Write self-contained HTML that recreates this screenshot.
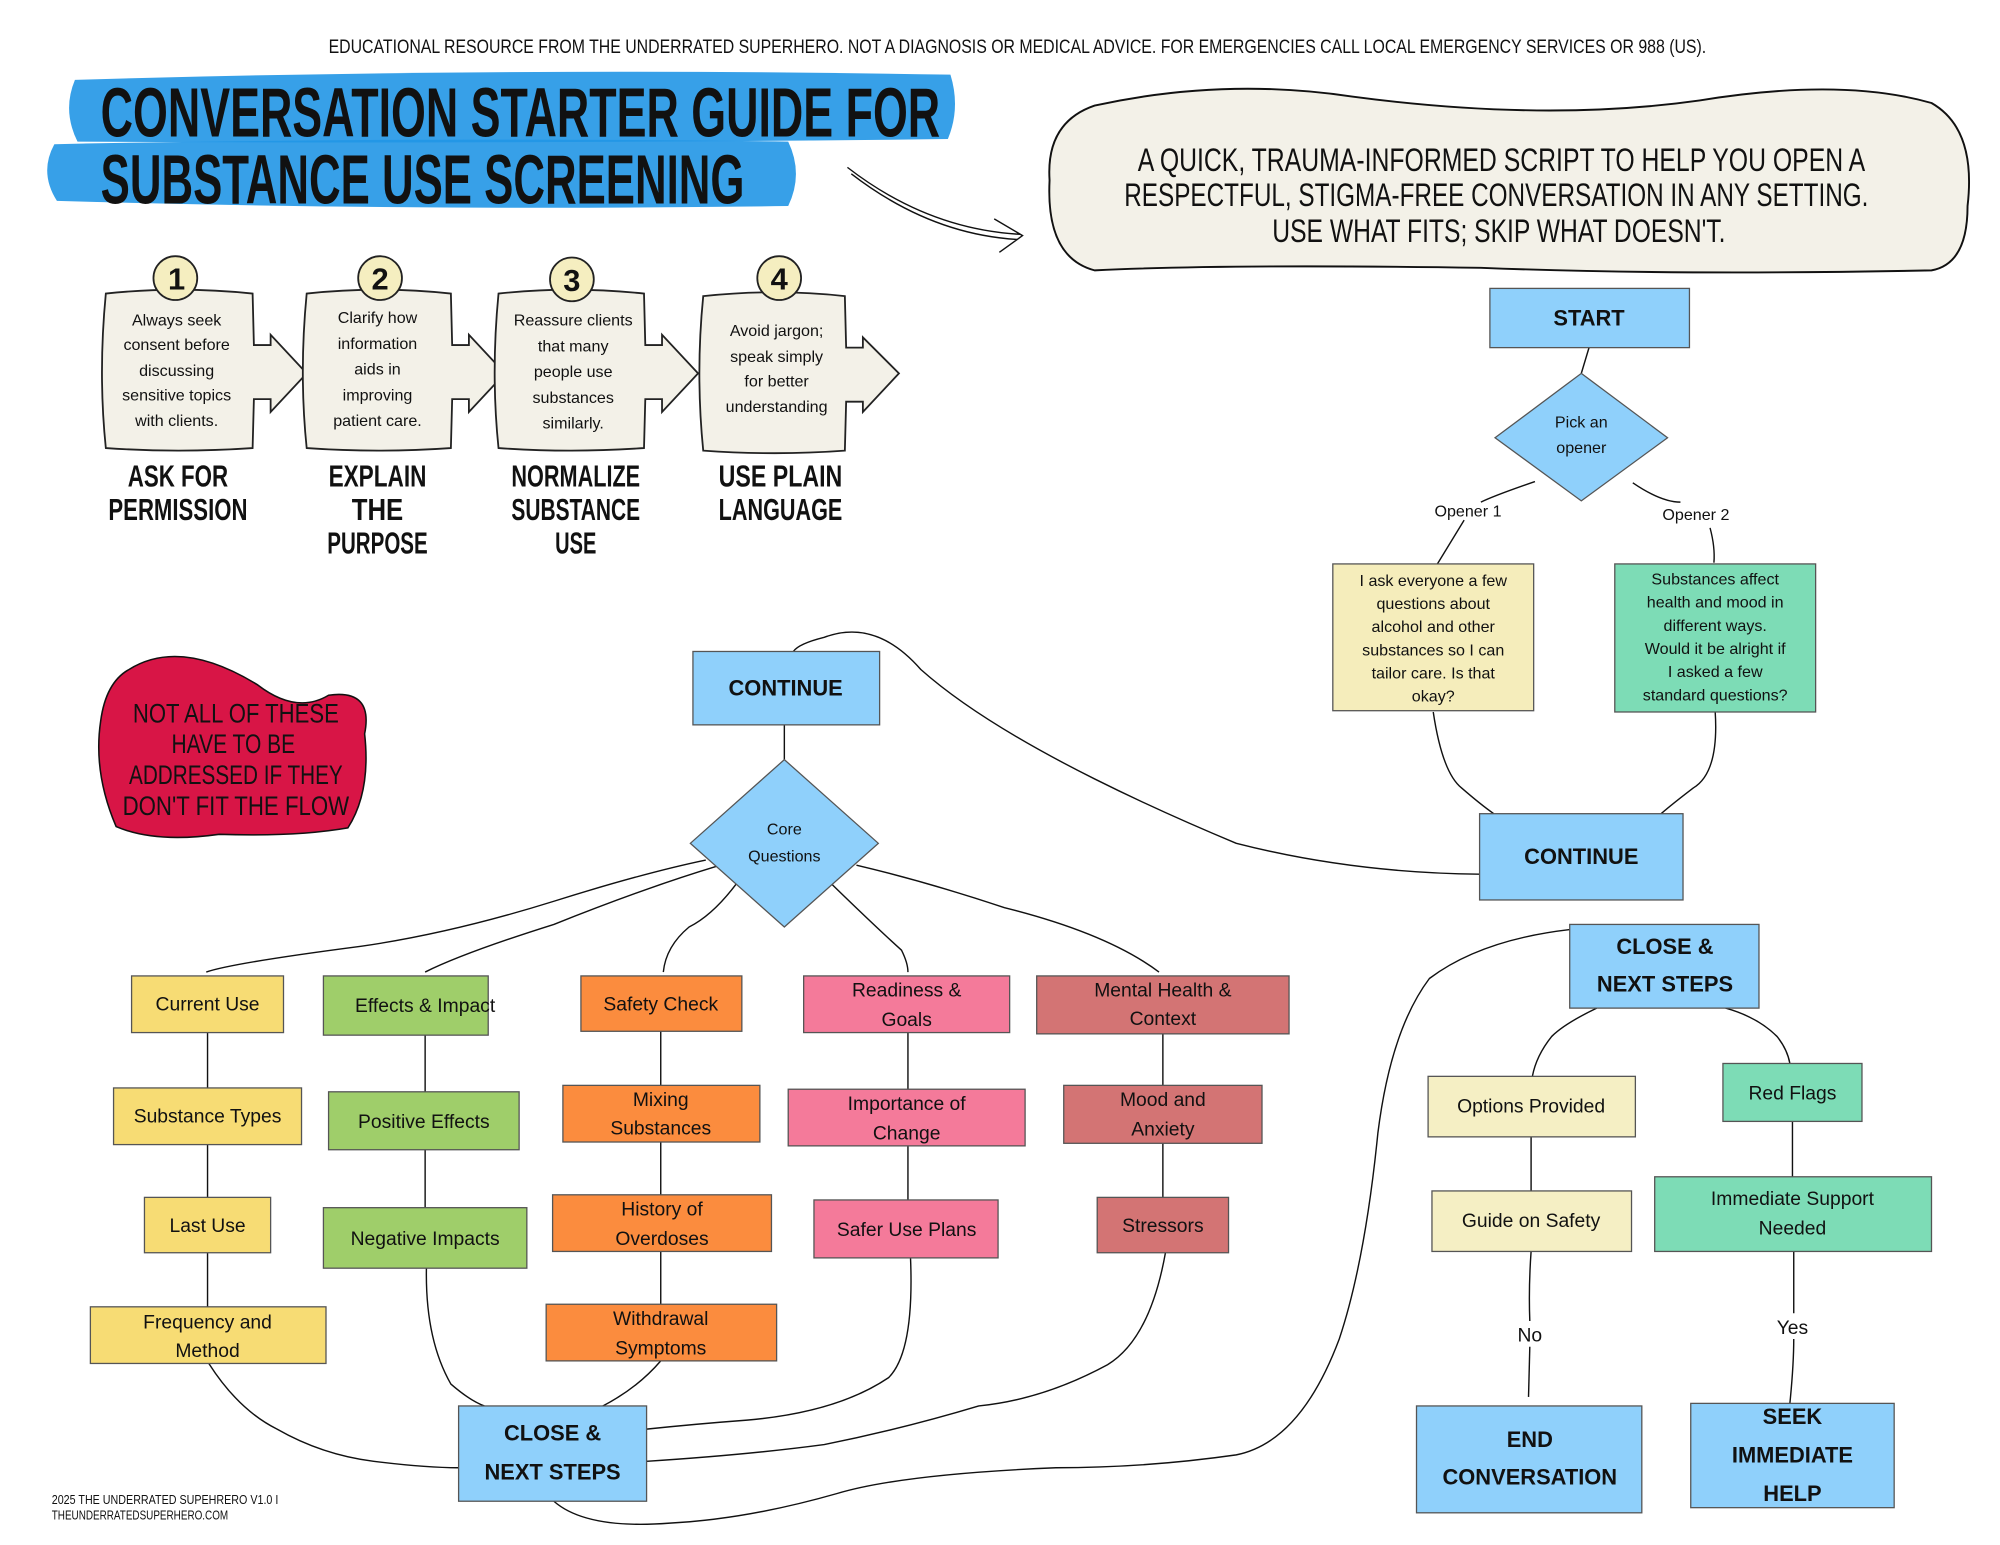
<!DOCTYPE html>
<html><head><meta charset="utf-8"><style>
html,body{margin:0;padding:0;background:#fff}
svg{display:block}
text{font-family:"Liberation Sans",sans-serif;fill:#111}
.b{stroke:#555;stroke-width:1}
.c{fill:none;stroke:#111;stroke-width:1.1}
.t{font-size:15px;text-anchor:middle}
.h{font-size:17px;font-weight:bold;text-anchor:middle}
.n{font-size:12.5px;text-anchor:middle}
.k{font-weight:bold;text-anchor:middle;font-size:22px}
</style></head><body>
<svg width="2000" height="1545" viewBox="0 0 1553 1200" xmlns="http://www.w3.org/2000/svg">
<rect width="1553" height="1200" fill="#fff"/>
<text x="790" y="41" text-anchor="middle" font-size="15" textLength="1070" lengthAdjust="spacingAndGlyphs">EDUCATIONAL RESOURCE FROM THE UNDERRATED SUPERHERO. NOT A DIAGNOSIS OR MEDICAL ADVICE. FOR EMERGENCIES CALL LOCAL EMERGENCY SERVICES OR 988 (US).</text>
<!-- title highlight -->
<path d="M58 62 Q400 52 738 58 Q746 84 736 108 Q400 112 60 110 Q48 86 58 62Z" fill="#2196e6" opacity="0.9"/>
<path d="M42 112 Q330 106 612 110 Q624 135 612 160 Q320 164 44 156 Q30 134 42 112Z" fill="#2196e6" opacity="0.9"/>
<text x="78" y="106" font-size="54" font-weight="bold" textLength="652" lengthAdjust="spacingAndGlyphs">CONVERSATION STARTER GUIDE FOR</text>
<text x="78" y="158" font-size="54" font-weight="bold" textLength="500" lengthAdjust="spacingAndGlyphs">SUBSTANCE USE SCREENING</text>
<!-- sketch arrow -->
<path class="c" d="M658 130 Q720 178 792 182 M661 135 Q722 182 790 186 M772 170 L794 183 L776 196" stroke-width="1.5"/>
<!-- bubble -->
<path d="M815 140 Q812 95 850 82 Q950 60 1050 75 Q1200 95 1320 78 Q1430 60 1500 80 Q1535 100 1528 160 Q1528 205 1500 210 Q1300 214 1150 208 Q950 205 850 210 Q812 200 815 140Z" fill="#f3f1e8" stroke="#111" stroke-width="1.5"/>
<text x="1166" y="133" text-anchor="middle" font-size="25" textLength="565" lengthAdjust="spacingAndGlyphs">A QUICK, TRAUMA-INFORMED SCRIPT TO HELP YOU OPEN A</text>
<text x="1162" y="160" text-anchor="middle" font-size="25" textLength="578" lengthAdjust="spacingAndGlyphs">RESPECTFUL, STIGMA-FREE CONVERSATION IN ANY SETTING.</text>
<text x="1164" y="188" text-anchor="middle" font-size="25" textLength="352" lengthAdjust="spacingAndGlyphs">USE WHAT FITS; SKIP WHAT DOESN'T.</text>
<!-- steps -->
<g fill="#f3f1e8" stroke="#222" stroke-width="1.4">
<path d="M82 228 Q138 222 196 228 L197 268 L210 268 L210 260 L238 290 L210 320 L210 310 L197 310 L196 348 Q138 352 82 348 Q76 290 82 228Z"/>
<path d="M238 228 Q294 222 350 228 L351 268 L364 268 L364 260 L392 290 L364 320 L364 310 L351 310 L350 348 Q294 352 238 348 Q232 290 238 228Z"/>
<path d="M387 228 Q443 222 500 228 L501 268 L514 268 L514 260 L542 290 L514 320 L514 310 L501 310 L500 348 Q443 352 387 348 Q381 290 387 228Z"/>
<path d="M546 230 Q602 224 656 230 L657 270 L670 270 L670 262 L698 290 L670 320 L670 312 L657 312 L656 350 Q602 354 546 350 Q540 290 546 230Z"/>
</g>
<g fill="#f5eec0" stroke="#222" stroke-width="1.4">
<circle cx="136" cy="216" r="17"/><circle cx="295" cy="216" r="17"/><circle cx="444" cy="217" r="17"/><circle cx="605" cy="216" r="17"/>
</g>
<g font-size="24" font-weight="bold" text-anchor="middle">
<text x="137" y="225">1</text><text x="295" y="225">2</text><text x="444" y="226">3</text><text x="605" y="225">4</text>
</g>
<g class="n">
<text x="137" y="253">Always seek</text><text x="137" y="272">consent before</text><text x="137" y="292">discussing</text><text x="137" y="311">sensitive topics</text><text x="137" y="331">with clients.</text>
<text x="293" y="251">Clarify how</text><text x="293" y="271">information</text><text x="293" y="291">aids in</text><text x="293" y="311">improving</text><text x="293" y="331">patient care.</text>
<text x="445" y="253">Reassure clients</text><text x="445" y="273">that many</text><text x="445" y="293">people use</text><text x="445" y="313">substances</text><text x="445" y="333">similarly.</text>
<text x="603" y="261">Avoid jargon;</text><text x="603" y="281">speak simply</text><text x="603" y="300">for better</text><text x="603" y="320">understanding</text>
</g>
<g font-size="24" font-weight="bold" text-anchor="middle">
<text x="138" y="378" textLength="78" lengthAdjust="spacingAndGlyphs">ASK FOR</text>
<text x="138" y="404" textLength="108" lengthAdjust="spacingAndGlyphs">PERMISSION</text>
<text x="293" y="378" textLength="76" lengthAdjust="spacingAndGlyphs">EXPLAIN</text>
<text x="293" y="404" textLength="40" lengthAdjust="spacingAndGlyphs">THE</text>
<text x="293" y="430" textLength="78" lengthAdjust="spacingAndGlyphs">PURPOSE</text>
<text x="447" y="378" textLength="100" lengthAdjust="spacingAndGlyphs">NORMALIZE</text>
<text x="447" y="404" textLength="100" lengthAdjust="spacingAndGlyphs">SUBSTANCE</text>
<text x="447" y="430" textLength="32" lengthAdjust="spacingAndGlyphs">USE</text>
<text x="606" y="378" textLength="96" lengthAdjust="spacingAndGlyphs">USE PLAIN</text>
<text x="606" y="404" textLength="96" lengthAdjust="spacingAndGlyphs">LANGUAGE</text>
</g>
<!-- red blob -->
<path d="M100 520 Q140 495 200 532 Q230 555 255 540 Q290 535 283 570 Q288 615 270 643 Q230 650 170 648 Q120 655 90 642 Q72 600 78 560 Q82 530 100 520Z" fill="#d81546" stroke="#111" stroke-width="1.2"/>
<g fill="#fff" font-size="21" text-anchor="middle">
<text x="183" y="561" fill="#fff" textLength="160" lengthAdjust="spacingAndGlyphs">NOT ALL OF THESE</text>
<text x="181" y="585" fill="#fff" textLength="96" lengthAdjust="spacingAndGlyphs">HAVE TO BE</text>
<text x="183" y="609" fill="#fff" textLength="166" lengthAdjust="spacingAndGlyphs">ADDRESSED IF THEY</text>
<text x="183" y="633" fill="#fff" textLength="176" lengthAdjust="spacingAndGlyphs">DON'T FIT THE FLOW</text>
</g>
<!-- connectors -->
<g class="c">
<path d="M1234 270 L1228 290"/>
<path d="M1192 374 Q1160 385 1150 390"/>
<path d="M1137 404 L1115 440"/>
<path d="M1268 375 Q1290 390 1305 390"/>
<path d="M1328 410 Q1332 425 1331 437"/>
<path d="M1113 553 Q1120 600 1135 612 Q1150 625 1160 632"/>
<path d="M1332 553 Q1335 600 1315 612 Q1298 625 1290 632"/>
<path d="M1149 679 Q1050 678 960 655 Q900 630 850 605 Q760 560 715 520 Q680 480 640 495 Q620 500 616 506"/>
<path d="M609 563 L609 590"/>
<path d="M548 668 Q500 678 430 700 Q350 725 280 735 Q180 748 160 755"/>
<path d="M556 673 Q500 690 430 718 Q360 740 330 755"/>
<path d="M575 682 Q555 710 535 720 Q517 735 515 755"/>
<path d="M643 684 Q680 720 700 738 Q705 748 705 755"/>
<path d="M665 672 Q720 685 780 705 Q860 725 900 755"/>
<path d="M161 802 L161 845"/><path d="M161 889 L161 930"/><path d="M161 973 L161 1015"/>
<path d="M330 804 L330 848"/><path d="M330 893 L330 938"/>
<path d="M513 801 L513 843"/><path d="M513 887 L513 928"/><path d="M513 972 L513 1013"/>
<path d="M705 802 L705 846"/><path d="M705 890 L705 932"/>
<path d="M903 803 L903 843"/><path d="M903 888 L903 930"/>
<path d="M162 1059 Q185 1095 215 1110 Q250 1130 290 1135 Q330 1140 356 1140"/>
<path d="M331 985 Q330 1040 350 1075 Q365 1088 376 1092"/>
<path d="M513 1057 Q495 1078 468 1092"/>
<path d="M707 977 Q710 1050 690 1070 Q650 1097 580 1103 Q540 1106 502 1110"/>
<path d="M905 973 Q893 1040 860 1060 Q810 1087 760 1092 Q700 1110 640 1122 Q580 1130 502 1135"/>
<path d="M1219 722 Q1150 730 1110 760 Q1080 800 1070 880 Q1060 980 1040 1040 Q1010 1120 960 1130 Q890 1140 820 1140 Q700 1145 650 1160 Q580 1180 520 1183 Q455 1188 430 1166"/>
<path d="M1240 783 Q1215 795 1205 805 Q1193 820 1190 836"/>
<path d="M1340 783 Q1365 790 1380 805 Q1388 815 1390 826"/>
<path d="M1189 883 L1189 925"/>
<path d="M1392 871 L1392 914"/>
<path d="M1189 972 Q1187 1000 1188 1026"/><path d="M1188 1046 L1187 1085"/>
<path d="M1393 972 L1393 1020"/><path d="M1393 1040 Q1393 1060 1390 1090"/>
</g>
<!-- right flow -->
<rect class="b" x="1157" y="224" width="155" height="46" fill="#8fd0fb"/>
<text class="h" x="1234" y="253">START</text>
<path class="b" d="M1228 290 L1295 340 L1228 389 L1161 340Z" fill="#8fd0fb"/>
<text class="n" x="1228" y="332">Pick an</text><text class="n" x="1228" y="352">opener</text>
<text class="n" x="1140" y="401">Opener 1</text>
<text class="n" x="1317" y="404">Opener 2</text>
<rect class="b" x="1035" y="438" width="156" height="114" fill="#f5edbb"/>
<g class="n" font-size="12.5"><text x="1113" y="455">I ask everyone a few</text><text x="1113" y="473">questions about</text><text x="1113" y="491">alcohol and other</text><text x="1113" y="509">substances so I can</text><text x="1113" y="527">tailor care. Is that</text><text x="1113" y="545">okay?</text></g>
<rect class="b" x="1254" y="438" width="156" height="115" fill="#7ddcb6"/>
<g class="n"><text x="1332" y="454">Substances affect</text><text x="1332" y="472">health and mood in</text><text x="1332" y="490">different ways.</text><text x="1332" y="508">Would it be alright if</text><text x="1332" y="526">I asked a few</text><text x="1332" y="544">standard questions?</text></g>
<rect class="b" x="1149" y="632" width="158" height="67" fill="#8fd0fb"/>
<text class="h" x="1228" y="671">CONTINUE</text>
<!-- middle -->
<rect class="b" x="538" y="506" width="145" height="57" fill="#8fd0fb"/>
<text class="h" x="610" y="540">CONTINUE</text>
<path class="b" d="M609 590 L682 655 L609 720 L536 655Z" fill="#8fd0fb"/>
<text class="n" x="609" y="648" font-size="14">Core</text><text class="n" x="609" y="669" font-size="14">Questions</text>
<!-- columns -->
<g class="b">
<rect x="102" y="758" width="118" height="44" fill="#f7dc74"/>
<rect x="88" y="845" width="146" height="44" fill="#f7dc74"/>
<rect x="112" y="930" width="98" height="43" fill="#f7dc74"/>
<rect x="70" y="1015" width="183" height="44" fill="#f7dc74"/>
<rect x="251" y="758" width="128" height="46" fill="#9fce6a"/>
<rect x="255" y="848" width="148" height="45" fill="#9fce6a"/>
<rect x="251" y="938" width="158" height="47" fill="#9fce6a"/>
<rect x="451" y="758" width="125" height="43" fill="#fb8c3e"/>
<rect x="437" y="843" width="153" height="44" fill="#fb8c3e"/>
<rect x="429" y="928" width="170" height="44" fill="#fb8c3e"/>
<rect x="424" y="1013" width="179" height="44" fill="#fb8c3e"/>
<rect x="624" y="758" width="160" height="44" fill="#f47a9a"/>
<rect x="612" y="846" width="184" height="44" fill="#f47a9a"/>
<rect x="632" y="932" width="143" height="45" fill="#f47a9a"/>
<rect x="805" y="758" width="196" height="45" fill="#d37474"/>
<rect x="826" y="843" width="154" height="45" fill="#d37474"/>
<rect x="852" y="930" width="102" height="43" fill="#d37474"/>
<rect x="356" y="1092" width="146" height="74" fill="#8fd0fb"/>
<rect x="1219" y="718" width="147" height="65" fill="#8fd0fb"/>
<rect x="1109" y="836" width="161" height="47" fill="#f5efc4"/>
<rect x="1338" y="826" width="108" height="45" fill="#7ddcb6"/>
<rect x="1112" y="925" width="155" height="47" fill="#f5efc4"/>
<rect x="1285" y="914" width="215" height="58" fill="#7ddcb6"/>
<rect x="1100" y="1092" width="175" height="83" fill="#8fd0fb"/>
<rect x="1313" y="1090" width="158" height="81" fill="#8fd0fb"/>
</g>
<g class="t">
<text x="161" y="785">Current Use</text>
<text x="161" y="872">Substance Types</text>
<text x="161" y="957">Last Use</text>
<text x="161" y="1032">Frequency and</text><text x="161" y="1054">Method</text>
<text x="330" y="786">Effects &amp; Impact</text>
<text x="329" y="876">Positive Effects</text>
<text x="330" y="967">Negative Impacts</text>
<text x="513" y="785">Safety Check</text>
<text x="513" y="859">Mixing</text><text x="513" y="881">Substances</text>
<text x="514" y="944">History of</text><text x="514" y="967">Overdoses</text>
<text x="513" y="1029">Withdrawal</text><text x="513" y="1052">Symptoms</text>
<text x="704" y="774">Readiness &amp;</text><text x="704" y="797">Goals</text>
<text x="704" y="862">Importance of</text><text x="704" y="885">Change</text>
<text x="704" y="960">Safer Use Plans</text>
<text x="903" y="774">Mental Health &amp;</text><text x="903" y="796">Context</text>
<text x="903" y="859">Mood and</text><text x="903" y="882">Anxiety</text>
<text x="903" y="957">Stressors</text>
<text x="1189" y="864">Options Provided</text>
<text x="1392" y="854">Red Flags</text>
<text x="1189" y="953">Guide on Safety</text>
<text x="1392" y="936">Immediate Support</text><text x="1392" y="959">Needed</text>
<text x="1188" y="1042">No</text>
<text x="1392" y="1036">Yes</text>
</g>
<g class="h">
<text x="429" y="1119">CLOSE &amp;</text><text x="429" y="1149">NEXT STEPS</text>
<text x="1293" y="741">CLOSE &amp;</text><text x="1293" y="770">NEXT STEPS</text>
<text x="1188" y="1124">END</text><text x="1188" y="1153">CONVERSATION</text>
<text x="1392" y="1106">SEEK</text><text x="1392" y="1136">IMMEDIATE</text><text x="1392" y="1166">HELP</text>
</g>
<text x="40" y="1168" font-size="10" textLength="176" lengthAdjust="spacingAndGlyphs">2025 THE UNDERRATED SUPEHRERO V1.0 I</text>
<text x="40" y="1180" font-size="10" textLength="137" lengthAdjust="spacingAndGlyphs">THEUNDERRATEDSUPERHERO.COM</text>
</svg>
</body></html>
